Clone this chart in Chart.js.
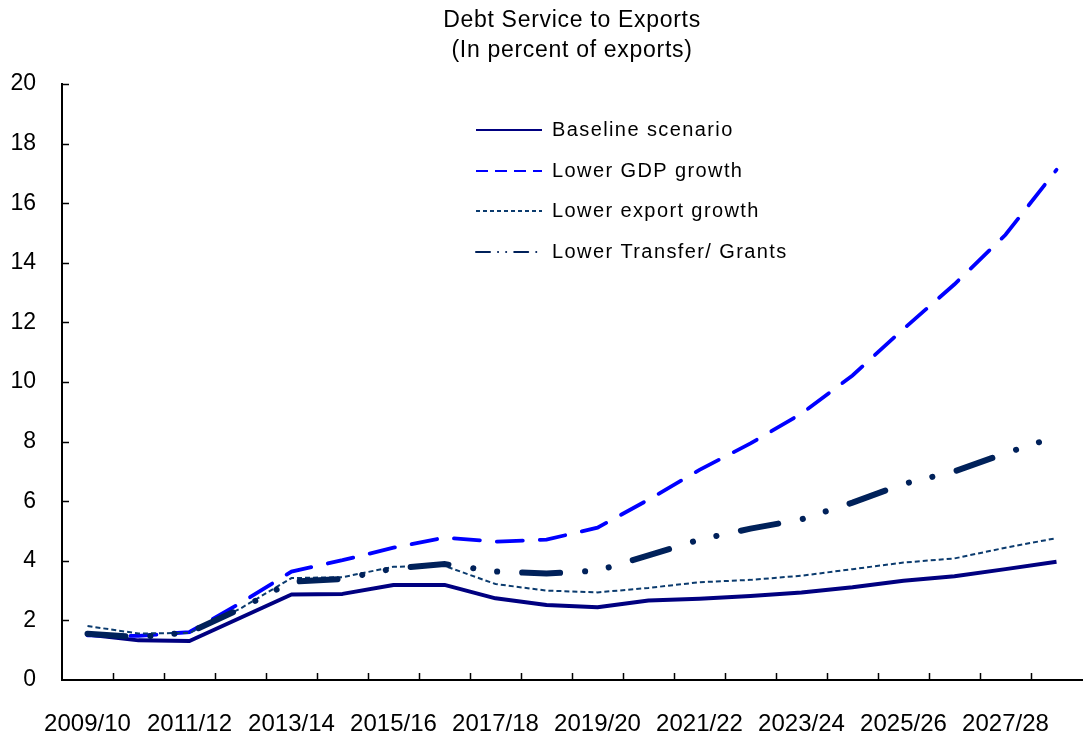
<html>
  <head>
    <title>Debt Service to Exports</title>
    <style>
      body {
        margin: 0;
        background: white;
        font-family: Arial, "Liberation Sans", sans-serif;
      }
      #wrap {
        width: 1083px;
        height: 737px;
        position: relative;
      }
    </style>
  </head>
  <body>
    <div id="wrap"><canvas id="myChart"></canvas></div>
    <script src="https://cdn.jsdelivr.net/npm/chart.js@4.4.1/dist/chart.umd.min.js"></script>
    <script>
      const years = ['2009/10', '2010/11', '2011/12', '2012/13', '2013/14', '2014/15', '2015/16', '2016/17', '2017/18', '2018/19',
                     '2019/20', '2020/21', '2021/22', '2022/23', '2023/24', '2024/25', '2025/26', '2026/27', '2027/28', '2028/29'];
      const baseline = [1.53, 1.33, 1.31, 2.09, 2.87, 2.89, 3.19, 3.19, 2.74, 2.52, 2.44, 2.67, 2.73, 2.82, 2.94, 3.11, 3.33, 3.48, 3.72, 3.97];
      const lowerGdp = [1.50, 1.48, 1.61, 2.58, 3.64, 4.02, 4.44, 4.78, 4.64, 4.71, 5.11, 6.05, 7.05, 7.94, 8.94, 10.22, 11.78, 13.28, 14.94, 17.12];
      const lowerExport = [1.81, 1.56, 1.58, 2.40, 3.42, 3.45, 3.80, 3.83, 3.22, 3.00, 2.94, 3.09, 3.28, 3.36, 3.50, 3.72, 3.94, 4.08, 4.44, 4.76];
      const lowerTransfer = [1.55, 1.44, 1.60, 2.39, 3.30, 3.39, 3.74, 3.89, 3.64, 3.57, 3.67, 4.18, 4.71, 5.08, 5.39, 5.95, 6.58, 7.00, 7.61, 8.17];
      const yTicks = [0, 2, 4, 6, 8, 10, 12, 14, 16, 18, 20];
      const titleLines = ['Debt Service to Exports', '(In percent of exports)'];

      const font = 'Arial, "Liberation Sans", sans-serif';

      // title drawn over the plot centre, like the original
      const titlePlugin = {
        id: 'twoLineTitle',
        afterDraw(chart) {
          const ctx = chart.ctx;
          const area = chart.chartArea;
          const cx = (area.left + area.right) / 2;
          ctx.save();
          ctx.fillStyle = '#000';
          ctx.font = '23px ' + font;
          ctx.letterSpacing = '0.7px';
          ctx.textAlign = 'center';
          ctx.textBaseline = 'middle';
          titleLines.forEach((t, i) => ctx.fillText(t, cx, 21 + i * 30));
          ctx.restore();
        }
      };

      // tick marks pointing into the plot
      const innerTicks = {
        id: 'innerTicks',
        afterDraw(chart) {
          const ctx = chart.ctx;
          const x = chart.scales.x;
          const y = chart.scales.y;
          ctx.save();
          ctx.strokeStyle = '#000';
          ctx.lineWidth = 1.5;
          ctx.beginPath();
          for (let i = 1; i < years.length; i++) {
            const px = Math.round((x.getPixelForValue(i - 1) + x.getPixelForValue(i)) / 2) + 0.5;
            ctx.moveTo(px, y.bottom);
            ctx.lineTo(px, y.bottom - 7);
          }
          yTicks.forEach(v => {
            if (v === 0) return;
            const py = Math.round(y.getPixelForValue(v)) + 0.5;
            ctx.moveTo(x.left, py);
            ctx.lineTo(x.left + 7, py);
          });
          ctx.stroke();
          ctx.restore();
        }
      };

      // legend inside the plot area
      const innerLegend = {
        id: 'innerLegend',
        afterDraw(chart) {
          const ctx = chart.ctx;
          const rows = [130, 171, 211, 252];
          const dashes = [[], [12, 7], [4, 3], [14, 8, 0.1, 8, 0.1, 8]];
          ctx.save();
          chart.data.datasets.forEach((ds, i) => {
            const ry = rows[i];
            ctx.strokeStyle = ds.borderColor;
            ctx.lineWidth = 2;
            ctx.lineCap = i === 3 ? 'round' : 'butt';
            ctx.setLineDash(dashes[i]);
            ctx.beginPath();
            ctx.moveTo(476, ry);
            ctx.lineTo(542, ry);
            ctx.stroke();
            ctx.setLineDash([]);
            ctx.fillStyle = '#000';
            ctx.font = '20px ' + font;
            ctx.letterSpacing = '1.4px';
            ctx.textAlign = 'left';
            ctx.textBaseline = 'middle';
            ctx.fillText(ds.label, 552, ry);
          });
          ctx.restore();
        }
      };

      new Chart(document.getElementById('myChart'), {
        type: 'line',
        data: {
          labels: years,
          datasets: [
            { label: 'Baseline scenario', data: baseline, borderColor: '#000080', borderWidth: 4,
              borderJoinStyle: 'round', order: 4 },
            { label: 'Lower GDP growth', data: lowerGdp, borderColor: '#0000FF', borderWidth: 3.8,
              borderDash: [26, 17], borderCapStyle: 'round', order: 3 },
            { label: 'Lower export growth', data: lowerExport, borderColor: '#0B3B6E', borderWidth: 2,
              borderDash: [5, 3], order: 2 },
            { label: 'Lower Transfer/ Grants', data: lowerTransfer, borderColor: '#00215A', borderWidth: 6,
              borderDash: [38, 25, 0.1, 24, 0.1, 25], borderCapStyle: 'round', order: 1 }
          ]
        },
        options: {
          responsive: true,
          maintainAspectRatio: false,
          animation: false,
          layout: { padding: { top: 84, right: 1, left: 0, bottom: 0 } },
          elements: { point: { radius: 0 }, line: { tension: 0 } },
          plugins: {
            legend: { display: false },
            tooltip: { enabled: false }
          },
          scales: {
            x: {
              type: 'category',
              offset: true,
              grid: { display: false },
              border: { display: true, color: '#000', width: 2 },
              ticks: {
                autoSkip: false,
                maxRotation: 0,
                minRotation: 0,
                padding: 22,
                color: '#000',
                font: { family: font, size: 24 },
                callback: (v, i) => (i % 2 === 0 ? years[i] : '')
              },
              afterFit: s => { s.height = 57; }
            },
            y: {
              min: 0,
              max: 20,
              afterBuildTicks: s => { s.ticks = yTicks.map(v => ({ value: v })); },
              grid: { display: false },
              border: { display: true, color: '#000', width: 2 },
              ticks: {
                padding: 18,
                color: '#000',
                font: { family: font, size: 23 }
              },
              afterFit: s => { s.width = 62; }
            }
          }
        },
        plugins: [titlePlugin, innerTicks, innerLegend]
      });
    </script>
  </body>
</html>
